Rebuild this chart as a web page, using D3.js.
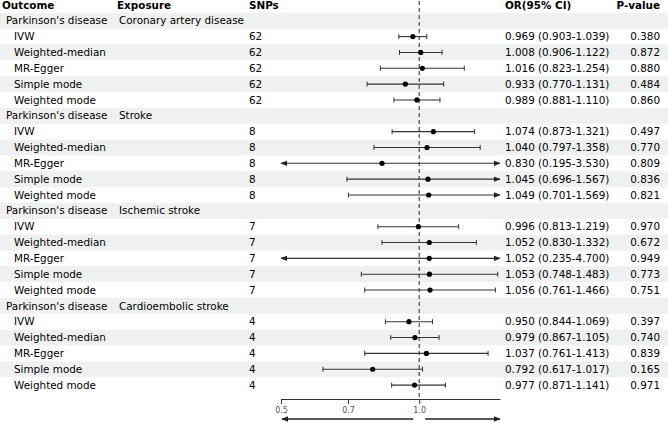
<!DOCTYPE html>
<html>
<head>
<meta charset="utf-8">
<script src="https://cdn.jsdelivr.net/npm/d3@7"></script>
<style>
  body { margin: 0; background: #fff; }
  svg { display: block; font-family: "DejaVu Sans", sans-serif; }
</style>
</head>
<body>
<div id="chart"></div>
<script>
// ---- datos ----
const outcome = "Parkinson's disease";
const exposures = ["Coronary artery disease", "Stroke", "Ischemic stroke", "Cardioembolic stroke"];
const snps = [62, 8, 7, 4];
const metodos = ["IVW", "Weighted-median", "MR-Egger", "Simple mode", "Weighted mode"];

const orVal = [
  [0.969, 1.008, 1.016, 0.933, 0.989],
  [1.074, 1.040, 0.830, 1.045, 1.049],
  [0.996, 1.052, 1.052, 1.053, 1.056],
  [0.950, 0.979, 1.037, 0.792, 0.977]
];
const lower = [
  [0.903, 0.906, 0.823, 0.770, 0.881],
  [0.873, 0.797, 0.195, 0.696, 0.701],
  [0.813, 0.830, 0.235, 0.748, 0.761],
  [0.844, 0.867, 0.761, 0.617, 0.871]
];
const upper = [
  [1.039, 1.122, 1.254, 1.131, 1.110],
  [1.321, 1.358, 3.530, 1.567, 1.569],
  [1.219, 1.332, 4.700, 1.483, 1.466],
  [1.069, 1.105, 1.413, 1.017, 1.141]
];
const pvals = [
  ["0.380", "0.872", "0.880", "0.484", "0.860"],
  ["0.497", "0.770", "0.809", "0.836", "0.821"],
  ["0.970", "0.672", "0.949", "0.773", "0.751"],
  ["0.397", "0.740", "0.839", "0.165", "0.971"]
];
const ticks = [0.5, 0.7, 1.0];
const limites = [0.5, 1.5];

// ---- filas ----
const filas = [];
exposures.forEach((ex, g) => {
  filas.push({ tipo: "grupo", outcome: outcome, exposure: ex });
  metodos.forEach((m, i) => {
    const f = d3.format(".3f");
    filas.push({
      tipo: "metodo", metodo: m, snp: snps[g],
      or: orVal[g][i], lo: lower[g][i], hi: upper[g][i],
      ci: `${f(orVal[g][i])} (${f(lower[g][i])}-${f(upper[g][i])})`,
      p: pvals[g][i]
    });
  });
});

const width = 668, height = 423;
const fs = 10.4;
const svg = d3.select("#chart").append("svg")
  .attr("width", width).attr("height", height);

const yScale = d3.scaleBand()
  .domain(d3.range(filas.length + 1))
  .range([-3, 393]);
const yc = i => yScale(i) + yScale.bandwidth() / 2;

const xScale = d3.scaleLog().domain(limites).range([281, 500]);

// fondo alterno
svg.selectAll("rect.bg")
  .data(filas)
  .enter()
  .filter((d, i) => (i + 1) % 2 === 1)
  .append("rect")
  .attr("x", 0)
  .attr("y", (d, i) => yScale(i * 2 + 1))
  .attr("width", width)
  .attr("height", yScale.bandwidth())
  .attr("fill", "#eff1f1");

// cabecera
const cab = [
  { t: "Outcome", x: 2, a: "start" },
  { t: "Exposure", x: 117, a: "start" },
  { t: "SNPs", x: 249, a: "start" },
  { t: "OR(95% CI)", x: 505, a: "start" },
  { t: "P-value", x: 660, a: "end" }
];
svg.selectAll("text.cab")
  .data(cab)
  .enter()
  .append("text")
  .attr("x", d => d.x)
  .attr("y", yc(0))
  .attr("dy", "0.35em")
  .attr("text-anchor", d => d.a)
  .attr("font-weight", "bold")
  .attr("font-size", fs)
  .text(d => d.t);

// linea de referencia
svg.append("line")
  .attr("x1", xScale(1)).attr("x2", xScale(1))
  .attr("y1", 1).attr("y2", 399)
  .attr("stroke", "#222")
  .attr("stroke-width", 1)
  .attr("stroke-dasharray", "4,3");

// marcadores de flecha
const defs = svg.append("defs");
defs.append("marker")
  .attr("id", "flecha")
  .attr("viewBox", "0 0 10 10")
  .attr("refX", 9).attr("refY", 5)
  .attr("markerWidth", 7).attr("markerHeight", 7)
  .attr("markerUnits", "userSpaceOnUse")
  .attr("orient", "auto-start-reverse")
  .append("path")
  .attr("d", "M0,1L10,5L0,9Z")
  .attr("fill", "#222");

filas.forEach((d, k) => {
  const i = k + 1;
  const y = yc(i);
  if (d.tipo === "grupo") {
    svg.append("text").attr("x", 6).attr("y", y).attr("dy", "0.35em")
      .attr("font-size", fs).text(d.outcome);
    svg.append("text").attr("x", 119).attr("y", y).attr("dy", "0.35em")
      .attr("font-size", fs).text(d.exposure);
    return;
  }
  svg.append("text").attr("x", 14).attr("y", y).attr("dy", "0.35em")
    .attr("font-size", fs).text(d.metodo);
  svg.append("text").attr("x", 249).attr("y", y).attr("dy", "0.35em")
    .attr("font-size", fs).text(d.snp);
  svg.append("text").attr("x", 505).attr("y", y).attr("dy", "0.35em")
    .attr("font-size", fs).text(d.ci);
  svg.append("text").attr("x", 660).attr("y", y).attr("dy", "0.35em")
    .attr("text-anchor", "end")
    .attr("font-size", fs).text(d.p);

  const lo = Math.max(d.lo, limites[0]);
  const hi = Math.min(d.hi, limites[1]);
  const linea = svg.append("line")
    .attr("x1", xScale(lo)).attr("x2", xScale(hi))
    .attr("y1", y).attr("y2", y)
    .attr("stroke", "#333").attr("stroke-width", 1.1);
  if (d.lo < limites[0]) linea.attr("marker-start", "url(#flecha)");
  else svg.append("line").attr("x1", xScale(lo)).attr("x2", xScale(lo))
    .attr("y1", y - 2.5).attr("y2", y + 2.5).attr("stroke", "#333");
  if (d.hi > limites[1]) linea.attr("marker-end", "url(#flecha)");
  else svg.append("line").attr("x1", xScale(hi)).attr("x2", xScale(hi))
    .attr("y1", y - 2.5).attr("y2", y + 2.5).attr("stroke", "#333");

  svg.append("circle")
    .attr("cx", xScale(d.or)).attr("cy", y).attr("r", 2.6)
    .attr("fill", "#000");
});

// eje
const eje = svg.append("g")
  .attr("transform", "translate(0,399)")
  .call(d3.axisBottom(xScale).tickValues(ticks).tickFormat(d3.format(".1f"))
    .tickSize(5).tickSizeOuter(0));
eje.select(".domain").attr("stroke", "#333");
eje.selectAll(".tick line").attr("stroke", "#333");
eje.selectAll(".tick text")
  .attr("font-size", 8).attr("fill", "#555")
  .attr("font-family", "DejaVu Sans, sans-serif");

// flechas inferiores
svg.append("line")
  .attr("x1", xScale(1) - 6).attr("x2", xScale(limites[0]) + 1)
  .attr("y1", 419).attr("y2", 419)
  .attr("stroke", "#222").attr("stroke-width", 1.3)
  .attr("marker-end", "url(#flecha)");
svg.append("line")
  .attr("x1", xScale(1) + 6).attr("x2", xScale(limites[1]))
  .attr("y1", 419).attr("y2", 419)
  .attr("stroke", "#222").attr("stroke-width", 1.3)
  .attr("marker-end", "url(#flecha)");
</script>
</body>
</html>
